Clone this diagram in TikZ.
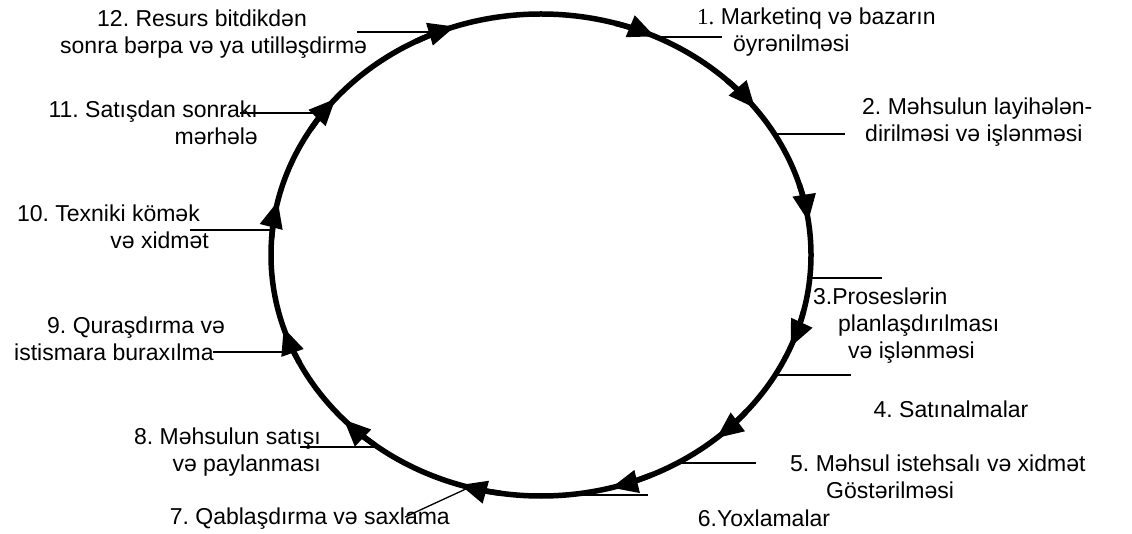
\documentclass[tikz,border=0pt]{standalone}
\usepackage{fontspec}
\setmainfont{Liberation Sans}
\newfontfamily\numserif{Liberation Serif}
\usetikzlibrary{arrows.meta,calc}
\begin{document}
\frenchspacing
\begin{tikzpicture}[x=1pt,y=1pt,
  cycle/.style={line width=5.5pt},
  flow/.style={line width=5.5pt,-{Triangle[length=27pt,width=22pt]}},
  leader/.style={line width=1.3pt},
  lbl/.style={inner sep=0pt,font=\fontsize{23}{27}\selectfont}
]
\useasboundingbox (0,0) rectangle (1132,533);
\coordinate (C) at (541,278);

% the life cycle loop
\draw[cycle] (C) ellipse[x radius=270, y radius=241];

% clockwise arrowheads on the loop
\foreach \t in {65,37.5,8,-22.5,-49.5,-75,-107.5,-137,-162.5,167,139.5,108.5}
  \draw[flow] ($(C)+(\t+9:270 and 241)$)
    arc[start angle=\t+9, end angle=\t, x radius=270, y radius=241];

% stage labels
\node[lbl,align=left,anchor=west] (n12) at (60,498.5) {\hspace*{37pt}12. Resurs bitdikdən\\sonra bərpa və ya utilləşdirmə};
\node[lbl,align=left,anchor=west] (n1) at (697,500.5) {{\numserif 1.} Marketinq və bazarın\\\hspace*{36pt}öyrənilməsi};
\node[lbl,align=right,anchor=east] (n11) at (258,410.5) {11. Satışdan sonrakı\\mərhələ};
\node[lbl,align=left,anchor=west] (n2) at (862,411) {2. Məhsulun layihələn-\\\hspace*{3pt}dirilməsi və işlənməsi};
\node[lbl,align=right,anchor=east] (n10) at (209,306.5) {10. Texniki kömək\hspace*{9pt}\\və xidmət};
\node[lbl,align=left,anchor=west] (n3) at (813,207) {3.Proseslərin\\\hspace*{25pt}planlaşdırılması\\\hspace*{35pt}və işlənməsi};
\node[lbl] (n4) at (951,124) {4. Satınalmalar};
\node[lbl,align=left,anchor=west] (n5) at (790,56) {5. Məhsul istehsalı və xidmət\\\hspace*{36pt}Göstərilməsi};
\node[lbl] (n6) at (764,15) {6.Yoxlamalar};
\node[lbl,anchor=east] (n7) at (450,14) {7. Qablaşdırma və saxlama};
\node[lbl,align=right,anchor=east] (n8) at (321,80.5) {8. Məhsulun satışı\\və paylanması};
\node[lbl,align=left,anchor=west] (n9) at (14,194) {\hspace*{33pt}9. Quraşdırma və\\istismara buraxılma};

% leader lines from the loop to the labels
\coordinate (e1) at (656,496);  \coordinate (f1) at (722,496);
\coordinate (e2) at (775,399);  \coordinate (f2) at (845,399);
\coordinate (e3) at (810,255);  \coordinate (f3) at (882,255);
\coordinate (e4) at (775,158);  \coordinate (f4) at (851,158);
\coordinate (e5) at (677,70);   \coordinate (f5) at (756,70);
\coordinate (e6) at (570,38);   \coordinate (f6) at (648,38);
\coordinate (e7) at (468,45);   \coordinate (f7) at (405,16);
\coordinate (e8) at (377,86);   \coordinate (f8) at (300,86);
\coordinate (e9) at (292,181);  \coordinate (f9) at (213,181);
\coordinate (e10) at (272,303); \coordinate (f10) at (190,303);
\coordinate (e11) at (323,420); \coordinate (f11) at (240,420);
\coordinate (e12) at (438,501); \coordinate (f12) at (357,501);
\foreach \i in {1,...,12}
  \draw[leader] (e\i) -- (f\i);
\end{tikzpicture}
\end{document}
